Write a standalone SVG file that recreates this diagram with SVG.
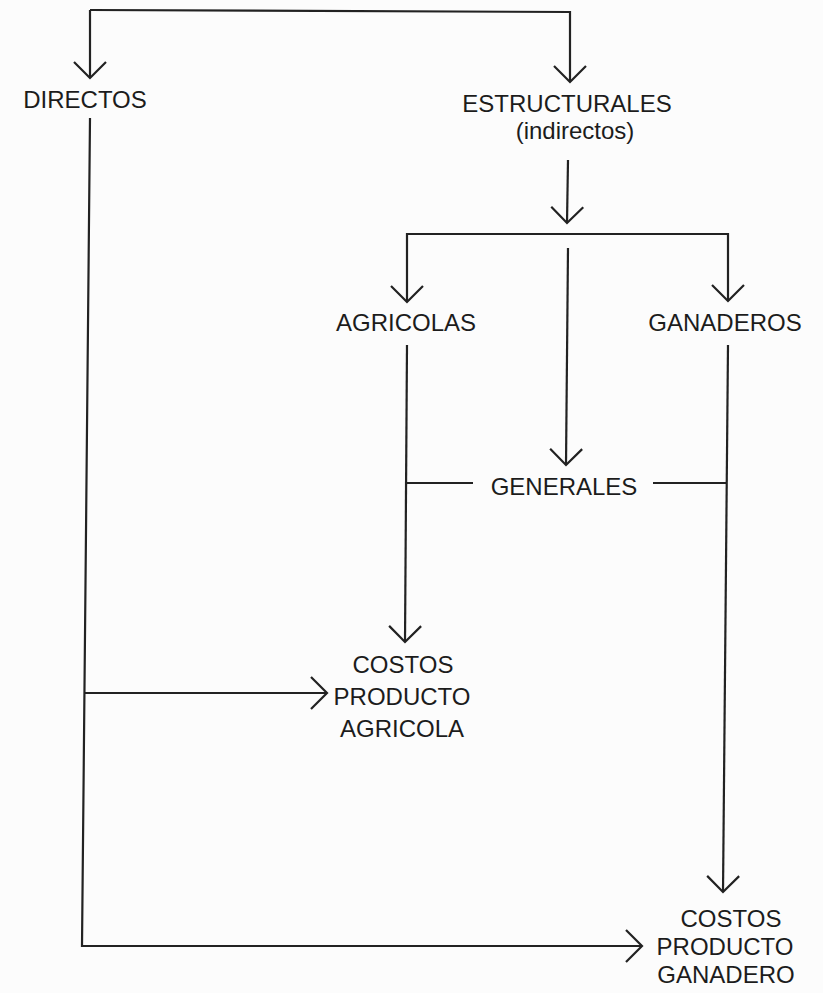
<svg xmlns="http://www.w3.org/2000/svg" width="823" height="993" viewBox="0 0 823 993">
<style>
.t{font-family:"Liberation Sans",Arial,Helvetica,sans-serif;font-size:24px;fill:#1c1c1c;text-anchor:middle}
.c{fill:none;stroke:#222;stroke-width:2.2;stroke-linejoin:miter}
.a{marker-end:url(#arr)}
</style>
<defs>
<marker id="arr" markerUnits="userSpaceOnUse" viewBox="-19 -19 21 38" markerWidth="21" markerHeight="38" refX="0" refY="0" orient="auto">
<path d="M-16,-16 L0,0 L-16,16" fill="none" stroke="#222" stroke-width="2.2"/>
</marker>
</defs>
<rect width="823" height="993" fill="#fcfcfc"/>
<g id="connectors">
<path class="c a" d="M90,10 L90,78"/>
<path class="c a" d="M90,10 L570,12 L570,82"/>
<path class="c a" d="M90,118 L82,946 L642,946"/>
<path class="c a" d="M84,693 L327,693"/>
<path class="c a" d="M568,160 L567,223"/>
<path class="c a" d="M568,234 L407,234 L407,302"/>
<path class="c a" d="M568,234 L728,234 L728,301"/>
<path class="c a" d="M568,248 L566,465"/>
<path class="c a" d="M407,345 L405,642"/>
<path class="c a" d="M728,345 L723,892"/>
<path class="c" d="M406,483 L473,483"/>
<path class="c" d="M653,483 L726,483"/>
</g>
<g id="directos"><text class="t" x="85" y="108">DIRECTOS</text></g>
<g id="estructurales"><text class="t" x="567" y="112">ESTRUCTURALES</text><text class="t" x="575" y="139">(indirectos)</text></g>
<g id="agricolas"><text class="t" x="406" y="331">AGRICOLAS</text></g>
<g id="ganaderos"><text class="t" x="725" y="331">GANADEROS</text></g>
<g id="generales"><text class="t" x="564" y="495">GENERALES</text></g>
<g id="costos-agricola"><text class="t" x="403" y="673">COSTOS</text><text class="t" x="402" y="705">PRODUCTO</text><text class="t" x="402" y="737">AGRICOLA</text></g>
<g id="costos-ganadero"><text class="t" x="731" y="927">COSTOS</text><text class="t" x="725" y="955">PRODUCTO</text><text class="t" x="726" y="983">GANADERO</text></g>
</svg>
